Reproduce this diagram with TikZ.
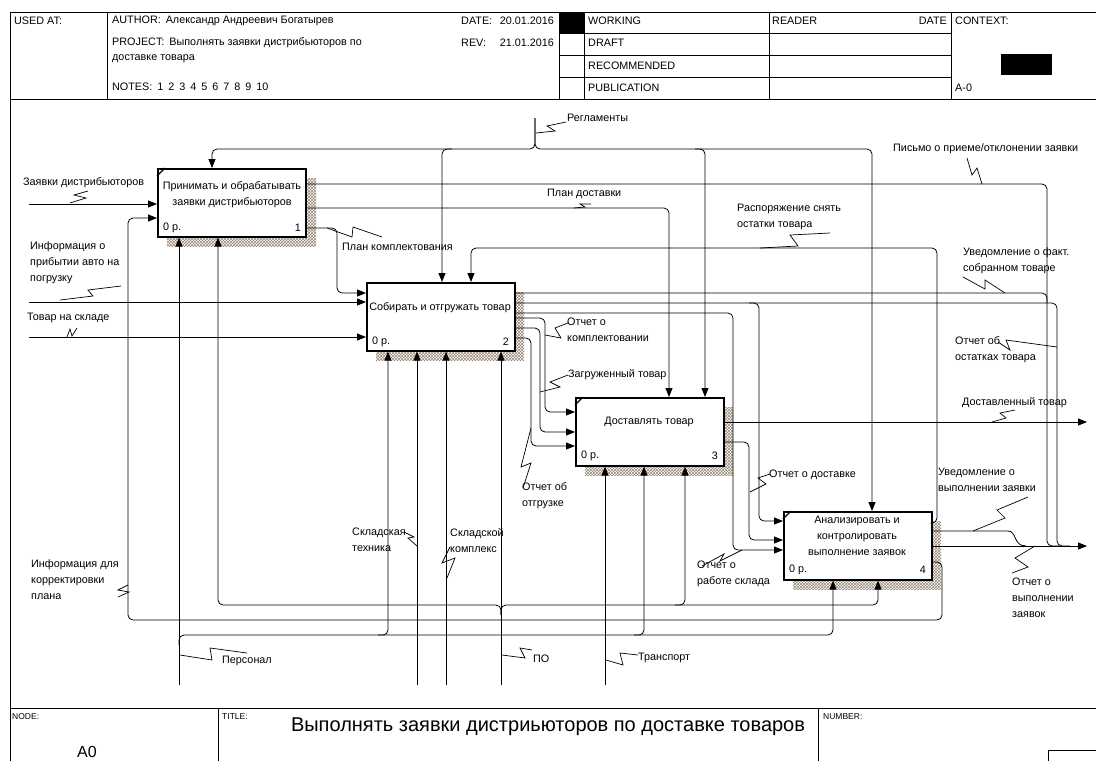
\documentclass[tikz,border=0pt]{standalone}
\usepackage{fontspec}
\setmainfont{Liberation Sans}
\usetikzlibrary{arrows.meta,patterns,calc}
\definecolor{shadecol}{RGB}{150,132,115}
\newcommand\fs{\fontsize{10.8}{16}\selectfont}
\begin{document}
\begin{tikzpicture}[x=1pt,y=-1pt,
  ln/.style={line width=0.8pt, rounded corners=5pt},
  ar/.style={ln, -{Triangle[length=9pt,width=7pt]}},
  sqs/.style={line width=0.7pt},
  lbl/.style={inner sep=0pt, anchor=west, align=left, font=\fs},
  btxt/.style={inner sep=0pt, align=center, font=\fs},
  fbox/.style={draw, line width=1.6pt, fill=white, minimum width=148pt, minimum height=68pt, anchor=north west, inner sep=0pt},
  shd/.style={pattern=crosshatch, pattern color=shadecol},
  frm/.style={line width=0.9pt},
  hdr/.style={inner sep=0pt, anchor=west, font=\fs}]
\useasboundingbox (0,0) rectangle (1096,761);
\fill[white] (0,0) rectangle (1096,761);
% ---------- frame & header ----------
\draw[frm] (10,780) -- (10,12) -- (1100,12);
\draw[frm] (10,99) -- (1100,99);
\draw[frm] (10,708) -- (1100,708);
\draw[frm] (107,12) -- (107,99);
\draw[frm] (559,12) -- (559,99);
\draw[frm] (584,12) -- (584,99);
\draw[frm] (769,12) -- (769,99);
\draw[frm] (951,12) -- (951,99);
\foreach \yy in {33,55,77} \draw[frm] (559,\yy) -- (951,\yy);
\fill (559,12) rectangle (584,33);
\fill (1001,54) rectangle (1052,75);
\node[hdr] (usedat) at (14,21) {USED AT:};
\node[hdr] (author) at (112,21) {AUTHOR:\hspace{5pt}Александр Андреевич Богатырев};
\node[hdr] (project) at (112,43) {PROJECT:\hspace{5pt}Выполнять заявки дистрибьюторов по};
\node[hdr] (project2) at (112,59) {доставке товара};
\node[hdr] (notes) at (112,87) {NOTES:\hspace{5pt}1\hspace{5pt}2\hspace{5pt}3\hspace{5pt}4\hspace{5pt}5\hspace{5pt}6\hspace{5pt}7\hspace{5pt}8\hspace{5pt}9\hspace{5pt}10};
\node[hdr] (datel) at (461,21) {DATE:};
\node[hdr, anchor=east] (datev) at (554,21) {20.01.2016};
\node[hdr] (revl) at (461,43) {REV:};
\node[hdr, anchor=east] (revv) at (554,43) {21.01.2016};
\node[hdr] (working) at (588,21) {WORKING};
\node[hdr] (draft) at (588,43) {DRAFT};
\node[hdr] (recom) at (588,66) {RECOMMENDED};
\node[hdr] (publ) at (588,88) {PUBLICATION};
\node[hdr] (reader) at (772,21) {READER};
\node[hdr, anchor=east] (rdate) at (947,21) {DATE};
\node[hdr] (context) at (955,21) {CONTEXT:};
\node[hdr] (actx) at (955,88) {A-0};
% ---------- footer ----------
\draw[frm] (218,708) -- (218,780);
\draw[frm] (818,708) -- (818,780);
\draw[frm] (1048,780) -- (1048,750) -- (1100,750);
\node[hdr, font=\fontsize{8.5}{10}\selectfont] (node) at (12,717) {NODE:};
\node[hdr, font=\fontsize{8.5}{10}\selectfont] (title) at (222,717) {TITLE:};
\node[hdr, font=\fontsize{8.5}{10}\selectfont] (number) at (823,717) {NUMBER:};
\node[inner sep=0pt, font=\fontsize{20}{22}\selectfont] (ttext) at (548,727) {Выполнять заявки дистриьюторов по доставке товаров};
\node[hdr, font=\fontsize{16}{18}\selectfont] (a0) at (77,752) {A0};
% ---------- shadows ----------
\fill[shd] (167,178) rectangle (316,246);
\fill[shd] (376,292) rectangle (524,360);
\fill[shd] (585,407) rectangle (733,475);
\fill[shd] (793,521) rectangle (941,589);
% ---------- boxes ----------
\node[fbox] (b1) at (157,168) {};
\node[fbox] (b2) at (366,282) {};
\node[fbox] (b3) at (575,397) {};
\node[fbox] (b4) at (783,511) {};
\draw[line width=1.2pt] (157,176) -- (165,168);
\draw[line width=1.2pt] (575,405) -- (583,397);
\draw[line width=1.2pt] (783,519) -- (791,511);
\node[btxt] (t1) at (232,194.5) {Принимать и обрабатывать\\заявки дистрибьюторов};
\node[btxt] (t2) at (440,308) {Собирать и отгружать товар};
\node[btxt] (t3) at (649,422) {Доставлять товар};
\node[btxt] (t4) at (857,536) {Анализировать и\\контролировать\\выполнение заявок};
\node[lbl] (p1) at (163,228) {0 р.};
\node[lbl, anchor=east] (n1) at (301,228) {1};
\node[lbl] (p2) at (372,342) {0 р.};
\node[lbl, anchor=east] (n2) at (509,342) {2};
\node[lbl] (p3) at (581,456) {0 р.};
\node[lbl, anchor=east] (n3) at (718,456) {3};
\node[lbl] (p4) at (789,570) {0 р.};
\node[lbl, anchor=east] (n4) at (926,570) {4};
% ---------- connectors ----------
\draw[ar] (29,204) -- (b1.west|-0,204);
\draw[ar] (b4.east|-0,562) -- (942,562) -- (942,620) -- (128,620) -- (128,218) -- (b1.west|-0,218);
% Регламенты
\draw[ar] (535,118) -- (535,149) -- (212,149) -- (212,0|-b1.north);
\draw[ar] (535,118) -- (535,149) -- (705,149) -- (705,0|-b3.north);
\draw[ar] (452,149) -- (442,149) -- (442,0|-b2.north);
\draw[ar] (695,149) -- (872,149) -- (872,0|-b4.north);
% Персонал
\draw[ar] (179,685) -- (179,0|-b1.south);
\draw[ar] (179,645) -- (179,635) -- (388,635) -- (388,0|-b2.south);
\draw[ar] (378,635) -- (644,635) -- (644,0|-b3.south);
\draw[ar] (634,635) -- (833,635) -- (833,0|-b4.south);
% ПО
\draw[ar] (501,685) -- (501,0|-b2.south);
\draw[ar] (501,615) -- (501,605) -- (218,605) -- (218,0|-b1.south);
\draw[ar] (501,615) -- (501,605) -- (685,605) -- (685,0|-b3.south);
\draw[ar] (675,605) -- (878,605) -- (878,0|-b4.south);
% other mechanisms
\draw[ar] (417,685) -- (417,0|-b2.south);
\draw[ar] (446,685) -- (446,0|-b2.south);
\draw[ar] (605,685) -- (605,0|-b3.south);
% box 1 outputs
\draw[ln] (b1.east|-0,184) -- (1047,184) -- (1047,546) -- (1060,546);
\draw[ar] (b1.east|-0,208) -- (669,208) -- (669,0|-b3.north);
\draw[ar] (b1.east|-0,228) -- (337,228) -- (337,293) -- (b2.west|-0,293);
% box 2 inputs / controls
\draw[ar] (29,302) -- (b2.west|-0,302);
\draw[ar] (29,337) -- (b2.west|-0,337);
\draw[ar] (b4.east|-0,523) -- (937,523) -- (937,248) -- (471,248) -- (471,0|-b2.north);
% box 2 outputs
\draw[ln] (b2.east|-0,293) -- (1047,293) -- (1047,303);
\draw[ln] (b2.east|-0,303) -- (1057,303) -- (1057,546) -- (1070,546);
\draw[ar] (749,303) -- (759,303) -- (759,521) -- (b4.west|-0,521);
\draw[ar] (b2.east|-0,313) -- (733,313) -- (733,550) -- (b4.west|-0,550);
\draw[ar] (b2.east|-0,318) -- (545,318) -- (545,412) -- (b3.west|-0,412);
\draw[ar] (b2.east|-0,328) -- (540,328) -- (540,432) -- (b3.west|-0,432);
\draw[ar] (b2.east|-0,338) -- (531,338) -- (531,446) -- (b3.west|-0,446);
% box 3 outputs
\draw[ar] (b3.east|-0,422) -- (1087,422);
\draw[ar] (b3.east|-0,442) -- (749,442) -- (749,540) -- (b4.west|-0,540);
% box 4 outputs
\draw[ar] (b4.east|-0,546) -- (1087,546);
\draw[line width=0.8pt] (b4.east|-0,531) -- (1008,531) .. controls (1017,531) and (1013,546) .. (1026,546);
% ---------- squiggles ----------
\draw[sqs] (70,203) -- (86,198) -- (74,195) -- (88,191);
\draw[sqs] (60,300) -- (93,296) -- (88,290) -- (121,286);
\draw[sqs] (67,337) -- (70,329) -- (72,336) -- (77,328);
\draw[sqs] (327,228) -- (352,237) -- (353,227) -- (382,237);
\draw[sqs] (574,208) -- (585,207) -- (580,204) -- (591,204);
\draw[sqs] (536,133) -- (555,131) -- (547,126) -- (566,122);
\draw[sqs] (982,184) -- (977,168) -- (972,175) -- (967,158);
\draw[sqs] (760,248) -- (798,246) -- (790,235) -- (830,233);
\draw[sqs] (1005,293) -- (985,280) -- (985,289) -- (963,277);
\draw[sqs] (1057,347) -- (1006,340) -- (1010,350) -- (998,342);
\draw[sqs] (992,422) -- (1006,418) -- (1000,413) -- (1015,410);
\draw[sqs] (545,335) -- (561,338) -- (555,328) -- (568,323);
\draw[sqs] (540,392) -- (560,387) -- (550,382) -- (568,375);
\draw[sqs] (531,428) -- (521,467) -- (531,463) -- (523,488);
\draw[sqs] (750,492) -- (766,484) -- (758,478) -- (770,474);
\draw[sqs] (742,550) -- (720,561) -- (724,554) -- (702,566);
\draw[sqs] (973,531) -- (1005,518) -- (997,510) -- (1028,497);
\draw[sqs] (1035,546) -- (1015,558) -- (1028,567) -- (1012,573);
\draw[sqs] (128,585) -- (118,590) -- (129,592) -- (118,597);
\draw[sqs] (417,546) -- (408,538) -- (414,537) -- (404,532);
\draw[sqs] (447,578) -- (455,558) -- (442,563) -- (450,547);
\draw[sqs] (180,655) -- (212,660) -- (210,648) -- (247,653);
\draw[sqs] (502,655) -- (525,658) -- (520,648) -- (532,650);
\draw[sqs] (606,660) -- (623,665) -- (620,653) -- (638,655);
% ---------- labels ----------
\node[lbl] (l1) at (23,183) {Заявки дистрибьюторов};
\node[lbl] (l2) at (30,263) {Информация о\\прибытии авто на\\погрузку};
\node[lbl] (l3) at (27,318) {Товар на складе};
\node[lbl] (l4) at (342,247) {План комплектования};
\node[lbl] (l5) at (567,118) {Регламенты};
\node[lbl] (l6) at (547,194) {План доставки};
\node[lbl] (l7) at (893,149) {Письмо о приеме/отклонении заявки};
\node[lbl] (l8) at (737,217) {Распоряжение снять\\остатки товара};
\node[lbl] (l9) at (963,261) {Уведомление о факт.\\собранном товаре};
\node[lbl] (l10) at (567,330) {Отчет о\\комплектовании};
\node[lbl] (l11) at (955,350) {Отчет об\\остатках товара};
\node[lbl] (l12) at (568,375) {Загруженный товар};
\node[lbl] (l13) at (962,403) {Доставленный товар};
\node[lbl] (l14) at (522,496) {Отчет об\\отгрузке};
\node[lbl] (l15) at (769,475) {Отчет о доставке};
\node[lbl] (l16) at (938,480) {Уведомление о\\выполнении заявки};
\node[lbl] (l17) at (352,540) {Складская\\техника};
\node[lbl] (l18) at (450,541) {Складской\\комплекс};
\node[lbl] (l19) at (31,580) {Информация для\\корректировки\\плана};
\node[lbl] (l20) at (697,574) {Отчет о\\работе склада};
\node[lbl] (l21) at (1012,598) {Отчет о\\выполнении\\заявок};
\node[lbl] (l22) at (222,661) {Персонал};
\node[lbl] (l23) at (533,659) {ПО};
\node[lbl] (l24) at (638,658) {Транспорт};
\end{tikzpicture}
\end{document}
